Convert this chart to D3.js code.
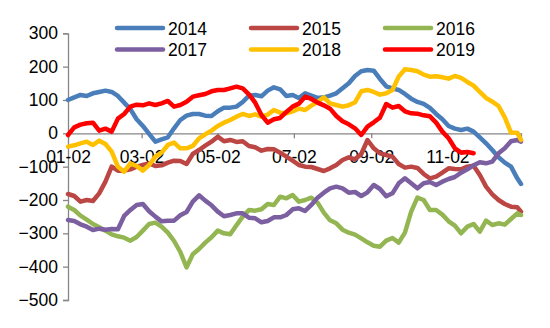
<!DOCTYPE html>
<html>
<head>
<meta charset="utf-8">
<script src="https://cdn.jsdelivr.net/npm/d3@7"></script>
<style>
  html, body { margin: 0; padding: 0; background: #fff; }
  svg { display: block; font-family: Arial, "Liberation Sans", sans-serif; }
</style>
</head>
<body>
<svg id="chart" width="550" height="328"></svg>
<script>
// ---- data (one point every 5 calendar days) ----
const years = ["2014", "2015", "2016", "2017", "2018", "2019"];
const colors = ["#4A7EBB", "#BB4643", "#93B652", "#7B5FA0", "#FFC000", "#FF0000"];

const s2014 = [100,108,115,112,120,124,128,124,112,92,72,42,22,-2,-25,-18,-12,15,40,53,58,58,53,52,66,77,77,80,94,113,115,111,128,138,132,112,115,106,120,113,106,108,113,120,135,150,172,186,190,188,163,141,135,130,118,104,94,88,76,58,42,22,14,10,14,5,-12,-30,-50,-72,-88,-100,-135,-152];
const s2015 = [-182,-188,-205,-200,-203,-180,-145,-100,-112,-112,-108,-100,-95,-90,-98,-96,-88,-82,-83,-92,-62,-50,-37,-25,-10,-24,-20,-26,-24,-38,-42,-52,-47,-48,-58,-70,-82,-95,-100,-101,-107,-113,-105,-95,-80,-72,-78,-62,-20,-45,-60,-65,-70,-92,-103,-100,-104,-122,-135,-130,-118,-105,-107,-108,-100,-97,-125,-160,-183,-200,-212,-220,-222,-235];
const s2016 = [-220,-230,-247,-259,-272,-282,-292,-303,-309,-313,-322,-311,-292,-272,-268,-280,-298,-323,-356,-402,-363,-347,-328,-312,-292,-300,-303,-276,-250,-230,-232,-228,-212,-215,-190,-195,-185,-205,-200,-193,-208,-238,-261,-270,-289,-298,-304,-315,-327,-337,-340,-322,-314,-328,-298,-235,-193,-200,-230,-230,-244,-264,-277,-300,-280,-272,-295,-262,-275,-270,-274,-257,-240,-245];
const s2017 = [-260,-263,-273,-280,-290,-286,-289,-287,-288,-248,-230,-215,-212,-234,-250,-264,-262,-262,-246,-236,-205,-186,-202,-216,-235,-249,-245,-240,-240,-253,-255,-267,-263,-252,-252,-245,-228,-225,-233,-215,-193,-178,-165,-160,-165,-178,-176,-188,-177,-155,-167,-189,-180,-150,-135,-150,-165,-150,-146,-155,-145,-137,-131,-118,-108,-96,-87,-90,-85,-60,-45,-24,-20,-25];
const s2018 = [-40,-36,-30,-25,-35,-22,-32,-55,-100,-115,-90,-98,-112,-95,-70,-58,-35,-28,-45,-45,-38,-15,-3,8,22,32,40,50,58,52,57,50,56,70,62,60,66,74,70,83,94,108,90,85,80,84,93,126,130,124,116,120,130,170,192,190,186,176,170,171,168,164,172,166,154,143,124,106,95,82,48,2,2,-20];
const s2019 = [-5,18,26,30,32,8,14,5,44,58,80,86,84,90,85,90,97,80,85,95,110,114,118,126,130,130,135,140,135,117,92,55,32,42,46,64,80,89,110,103,92,84,74,52,36,27,15,-5,20,33,47,88,77,82,66,60,59,54,51,32,5,-15,-45,-58,-56,-60];
const seriesValues = [s2014, s2015, s2016, s2017, s2018, s2019];

const yTicks = [300, 200, 100, 0, -100, -200, -300, -400, -500];
const xTickLabels = ["01-02", "03-02", "05-02", "07-02", "09-02", "11-02"];

// ---- scales ----
const parse = d3.timeParse("%Y-%m-%d");
const start = parse("2019-01-02");
const end = parse("2019-12-31");
const dateOf = i => d3.timeDay.offset(start, Math.min(i * 5, 363));

const x = d3.scaleTime().domain([start, end]).range([68, 521]);
const y = d3.scaleLinear().domain([-500, 300]).range([300, 33.3]);

const svg = d3.select("#chart");
const axisColor = "#868686";
const fontSize = "17.5px";

// ---- y axis ----
const yAxis = svg.append("g")
  .attr("transform", "translate(68,0)")
  .call(d3.axisLeft(y).tickValues(yTicks).tickSize(5).tickPadding(5).tickFormat(d3.format("d")));
yAxis.select(".domain").attr("stroke", axisColor).attr("stroke-width", 1.3);
yAxis.selectAll(".tick line").attr("stroke", axisColor).attr("stroke-width", 1.3);
yAxis.selectAll(".tick text")
  .attr("fill", "#000").style("font-size", fontSize)
  .style("font-family", "Arial, 'Liberation Sans', sans-serif");

// ---- x axis at zero ----
const xTickDates = xTickLabels.map(s => parse("2019-" + s));
const xAxis = svg.append("g")
  .attr("transform", `translate(0,${y(0)})`)
  .call(d3.axisBottom(x).tickValues(xTickDates).tickSize(5).tickPadding(12)
    .tickFormat((d, i) => xTickLabels[i]));
xAxis.select(".domain").attr("stroke", axisColor).attr("stroke-width", 1.3);
xAxis.selectAll(".tick line").attr("stroke", axisColor).attr("stroke-width", 1.3);
xAxis.selectAll(".tick text")
  .attr("fill", "#000").style("font-size", fontSize)
  .style("font-family", "Arial, 'Liberation Sans', sans-serif");

// ---- lines ----
const line = d3.line()
  .x((d, i) => x(dateOf(i)))
  .y(d => y(d))
  .curve(d3.curveLinear);

svg.append("g").selectAll("path")
  .data(seriesValues)
  .join("path")
  .attr("d", d => line(d))
  .attr("fill", "none")
  .attr("stroke", (d, i) => colors[i])
  .attr("stroke-width", 4.5)
  .attr("stroke-linejoin", "round")
  .attr("stroke-linecap", "round");

// ---- legend ----
const legend = svg.append("g");
years.forEach((yr, i) => {
  const col = i % 3, row = Math.floor(i / 3);
  const lx = 117 + col * 134;
  const ly = 28 + row * 21.6;
  legend.append("line")
    .attr("x1", lx).attr("x2", lx + 46)
    .attr("y1", ly).attr("y2", ly)
    .attr("stroke", colors[i]).attr("stroke-width", 4.5)
    .attr("stroke-linecap", "round");
  legend.append("text")
    .attr("x", lx + 51).attr("y", ly + 6.5)
    .attr("fill", "#000")
    .style("font-size", fontSize)
    .text(yr);
});
</script>
</body>
</html>
